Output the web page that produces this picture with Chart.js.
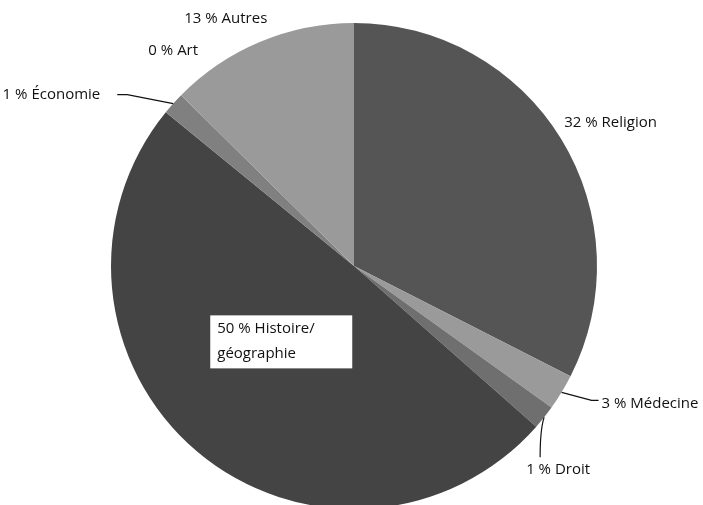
<!DOCTYPE html>
<html>
<head>
<meta charset="utf-8">
<script src="https://cdn.jsdelivr.net/npm/chart.js@4.4.1/dist/chart.umd.min.js"></script>
<style>
    html, body { margin: 0; padding: 0; background: #fff; overflow: hidden; }
    #wrap { width: 703px; height: 505px; }
</style>
</head>
<body>
<div id="wrap"><canvas id="pieChart" width="703" height="505"></canvas></div>
<script>
// Data (slice sizes estimated from the angles)
const categories = ['Religion', 'Médecine', 'Droit', 'Histoire/ géographie', 'Économie', 'Art', 'Autres'];
const shares = [32.5, 2.4, 1.6, 49.4, 1.5, 0, 12.6];
const percentLabels = ['32 %', '3 %', '1 %', '50 %', '1 %', '0 %', '13 %'];
const sliceColors = ['#555555', '#9a9a9a', '#6f6f6f', '#444444', '#808080', '#8c8c8c', '#9a9a9a'];

// Label placement relative to the slice edge point at its mid angle
const labelStyle = [
    { dx: 3, dy: -16, align: 'left' },
    { dx: 40, dy: 11, align: 'left', leader: [[30, 8], [37, 8]] },
    { dx: 14, dy: 52, align: 'center', leader: [[-4, 40]], curve: true },
    { inside: 0.45, box: true },
    { dx: -73, dy: -9, align: 'right', leader: [[-46, -9], [-56, -9]] },
    { dx: 17, dy: -45, align: 'right' },
    { dx: 7, dy: -23, align: 'right' }
];

const pieLabels = {
    id: 'pieLabels',
    afterDatasetsDraw(chart) {
        const ctx = chart.ctx;
        const arcs = chart.getDatasetMeta(0).data;
        ctx.save();
        ctx.font = '15px "Open Sans", sans-serif';
        ctx.fillStyle = '#111';
        ctx.strokeStyle = '#111';
        ctx.lineWidth = 1.2;
        ctx.textBaseline = 'middle';
        arcs.forEach((arc, i) => {
            const s = labelStyle[i];
            const mid = (arc.startAngle + arc.endAngle) / 2;
            const r = arc.outerRadius;
            const text = percentLabels[i] + ' ' + categories[i];
            if (s.inside) {
                const cx = arc.x + Math.cos(mid) * r * s.inside;
                const cy = arc.y + Math.sin(mid) * r * s.inside;
                const lines = [percentLabels[i] + ' Histoire/', 'géographie'];
                ctx.fillStyle = '#fff';
                ctx.fillRect(cx - 73, cy - 34, 142, 53);
                ctx.fillStyle = '#111';
                ctx.textAlign = 'left';
                ctx.fillText(lines[0], cx - 66, cy - 21);
                ctx.fillText(lines[1], cx - 66, cy + 4);
                return;
            }
            const px = arc.x + Math.cos(mid) * r;
            const py = arc.y + Math.sin(mid) * r;
            if (s.leader) {
                ctx.beginPath();
                ctx.moveTo(px, py);
                if (s.curve) {
                    const end = s.leader[0];
                    ctx.quadraticCurveTo(px - 4, py + 12, px + end[0], py + end[1]);
                } else {
                    s.leader.forEach(p => ctx.lineTo(px + p[0], py + p[1]));
                }
                ctx.stroke();
            }
            ctx.textAlign = s.align;
            ctx.fillText(text, px + s.dx, py + s.dy);
        });
        ctx.restore();
    }
};

const ctx = document.getElementById('pieChart').getContext('2d');
new Chart(ctx, {
    type: 'pie',
    data: {
        labels: categories,
        datasets: [{
            data: shares,
            backgroundColor: sliceColors,
            borderWidth: 0,
            radius: 243
        }]
    },
    options: {
        responsive: false,
        animation: false,
        layout: { padding: { left: 5, right: 0, top: 27, bottom: 0 } },
        plugins: {
            legend: { display: false },
            tooltip: { enabled: false }
        }
    },
    plugins: [pieLabels]
});
</script>
</body>
</html>
